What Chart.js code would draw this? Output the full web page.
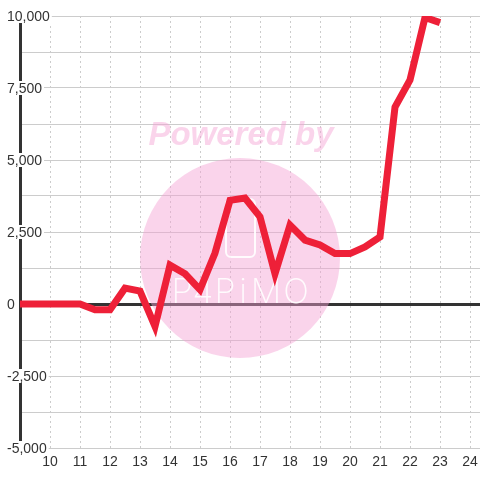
<!DOCTYPE html>
<html>
<head>
<meta charset="utf-8">
<script src="https://cdn.jsdelivr.net/npm/chart.js@4/dist/chart.umd.min.js"></script>
<style>
  html, body { margin: 0; padding: 0; background: #ffffff; }
  canvas { display: block; }
</style>
</head>
<body>
<canvas id="chart" width="480" height="480"></canvas>
<script>
// x positions (half steps) and the values
const xValues = [9, 9.5, 10, 10.5, 11, 11.5, 12, 12.5, 13, 13.5, 14, 14.5, 15, 15.5,
                 16, 16.5, 17, 17.5, 18, 18.5, 19, 19.5, 20, 20.5, 21, 21.5, 22, 22.5, 23];
const yValues = [0, 0, 0, 0, 0, -200, -200, 550, 450, -780, 1350, 1050, 500, 1770,
                 3600, 3680, 3030, 1050, 2740, 2220, 2050, 1750, 1750, 1980, 2330, 6840, 7780, 9950, 9770];

const xTicks = [10, 11, 12, 13, 14, 15, 16, 17, 18, 19, 20, 21, 22, 23, 24];
const yGrid = [-5000, -3750, -2500, -1250, 0, 1250, 2500, 3750, 5000, 6250, 7500, 8750, 10000];
const yLabels = [-5000, -2500, 0, 2500, 5000, 7500, 10000];

const points = xValues.map(function(x, i) { return { x: x, y: yValues[i] }; });

// the faded "Powered by" badge behind the line
const watermark = {
  id: 'watermark',
  beforeDatasetsDraw(chart) {
    const ctx = chart.ctx;
    ctx.save();
    ctx.fillStyle = 'rgba(245, 160, 210, 0.45)';
    ctx.beginPath();
    ctx.arc(240, 258, 100, 0, Math.PI * 2);
    ctx.fill();
    ctx.font = 'italic bold 33px "Liberation Sans"';
    ctx.textAlign = 'center';
    ctx.textBaseline = 'alphabetic';
    ctx.fillText('Powered by', 241, 145);
    ctx.strokeStyle = 'rgba(255,255,255,0.9)';
    ctx.lineWidth = 2;
    ctx.beginPath();
    ctx.roundRect(226, 199, 29, 58, 5);
    ctx.stroke();
    ctx.fillStyle = 'rgba(255,255,255,0.9)';
    ctx.font = '200 34px Inter';
    const chars = ['P', '4', 'P', 'i', 'M', 'O'];
    const cx = [182, 203, 225, 243, 266, 296];
    chars.forEach(function(c, i) { ctx.fillText(c, cx[i], 303); });
    ctx.restore();
  }
};

// y labels sit over the axis line on a white box, left aligned at the canvas edge
const yAxisLabels = {
  id: 'yAxisLabels',
  beforeDatasetsDraw(chart) {
    const ctx = chart.ctx;
    const y = chart.scales.y;
    ctx.save();
    ctx.font = '14px "Liberation Sans"';
    ctx.textAlign = 'left';
    ctx.textBaseline = 'middle';
    yLabels.forEach(function(v) {
      const text = v.toLocaleString('en-US');
      const py = y.getPixelForValue(v);
      const w = ctx.measureText(text).width;
      ctx.fillStyle = '#ffffff';
      ctx.fillRect(6, py - 7, w + 3, 14);
      ctx.fillStyle = '#333333';
      ctx.fillText(text, 7, py + 1);
    });
    ctx.restore();
  }
};

new Chart(document.getElementById('chart'), {
  type: 'line',
  data: {
    datasets: [{
      data: points,
      borderColor: '#ee2038',
      borderWidth: 7,
      pointRadius: 0,
      fill: false,
      tension: 0
    }]
  },
  options: {
    responsive: false,
    animation: false,
    layout: { padding: { top: 16, left: 7, right: 0, bottom: 0 } },
    plugins: { legend: { display: false }, tooltip: { enabled: false } },
    scales: {
      x: {
        type: 'linear',
        min: 9,
        max: 24.333,
        afterBuildTicks: function(scale) {
          scale.ticks = xTicks.map(function(v) { return { value: v }; });
        },
        afterFit: function(scale) {
          scale.height = 32;
          scale.paddingLeft = 0;
          scale.paddingRight = 0;
        },
        grid: { color: '#cccccc', lineWidth: 1, drawTicks: false },
        border: { display: false, dash: [2, 3] },
        ticks: {
          padding: 7,
          maxRotation: 0,
          autoSkip: false,
          color: '#333333',
          font: { family: 'Liberation Sans', size: 14, lineHeight: 1 }
        }
      },
      y: {
        min: -5000,
        max: 10000,
        afterBuildTicks: function(scale) {
          scale.ticks = yGrid.map(function(v) { return { value: v }; });
        },
        afterFit: function(scale) {
          scale.width = 13;
          scale.paddingTop = 0;
          scale.paddingBottom = 0;
        },
        grid: {
          drawTicks: false,
          color: function(ctx) { return ctx.tick && ctx.tick.value === 0 ? '#333333' : '#cccccc'; },
          lineWidth: function(ctx) { return ctx.tick && ctx.tick.value === 0 ? 3 : 1; }
        },
        border: { display: true, color: '#333333', width: 3 },
        ticks: { display: false }
      }
    }
  },
  plugins: [watermark, yAxisLabels]
});
</script>
</body>
</html>
